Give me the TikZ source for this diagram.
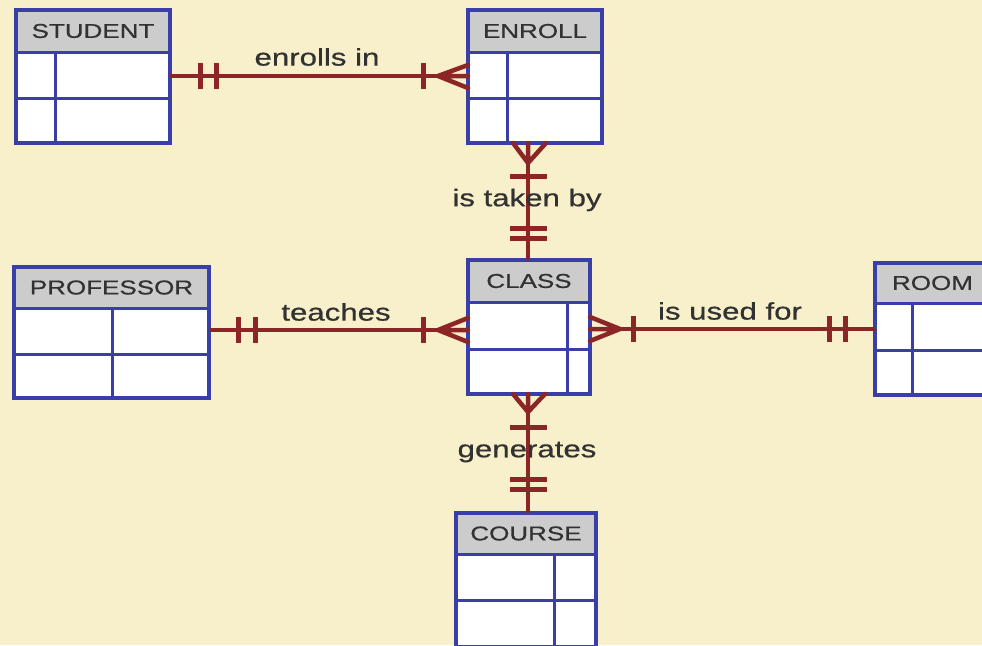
\documentclass[tikz,border=0pt]{standalone}
\usepackage{fontspec}
\newfontfamily\erfont[FakeStretch=1.3,FakeBold=0.6]{Liberation Sans}
\definecolor{bg}{RGB}{247,240,202}
\definecolor{tblue}{RGB}{58,62,168}
\definecolor{hdr}{RGB}{204,204,204}
\definecolor{rel}{RGB}{140,38,38}
\definecolor{txt}{RGB}{50,50,50}
\tikzset{
  tbox/.style={draw=tblue, fill=white, line width=3.5, inner sep=0, outer sep=0},
  tline/.style={draw=tblue, line width=3},
  tborder/.style={draw=tblue, line width=3.5, line join=round},
  hdrfill/.style={fill=hdr},
  htext/.style={text=txt, font=\erfont\fontsize{20}{24}\selectfont, inner sep=0},
  ltext/.style={text=txt, font=\erfont\fontsize{24}{28}\selectfont, inner sep=0},
  relline/.style={draw=rel, line width=3.5},
  relbar/.style={draw=rel, line width=5},
  crow/.style={draw=rel, line width=4.5, line cap=round},
}
\newcommand{\ertable}[9]{%
  \node[tbox, anchor=north west, minimum width={#4-#2}, minimum height={#5-#3}] (#1) at (#2,#3) {};
  \fill[hdrfill] (#2,#3) rectangle (#4,#6);
  \draw[tline] (#2,#6) -- (#4,#6) (#2,#7) -- (#4,#7) (#8,#6) -- (#8,#5);
  \draw[tborder] (#2,#3) rectangle (#4,#5);
  \node[htext] (#1-t) at ({(#2+#4)/2},{(#3+#6)/2}) {#9};
}
\begin{document}
\begin{tikzpicture}[x=1pt,y=-1pt]
\clip (0,0) rectangle (982,645);
\fill[bg] (0,0) rectangle (982,645);

\ertable{student}{16}{10}{170}{143}{52}{98}{55}{STUDENT}
\ertable{enroll}{468}{10}{602}{143}{52}{98}{507}{ENROLL}
\ertable{professor}{14}{267}{209}{398}{308}{354}{112}{PROFESSOR}
\ertable{class}{468}{260}{590}{394}{302}{349}{567}{CLASS}
\ertable{room}{875}{263}{990}{395}{303}{350}{912}{ROOM}
\ertable{course}{456}{513}{596}{647}{554}{600}{554}{COURSE}

% STUDENT -- ENROLL
\draw[relline] (student.east |- 0,76) -- (enroll.west |- 0,76);
\draw[relbar] (200,63) -- (200,89) (216,63) -- (216,89) (423,63) -- (423,89);
\draw[crow] (438,76) -- (enroll.west |- 0,65) (438,76) -- (enroll.west |- 0,76) (438,76) -- (enroll.west |- 0,88);
\node[ltext] (l1) at (317,57) {enrolls in};

% ENROLL -- CLASS
\draw[relline] (enroll.south -| 528,0) -- (class.north -| 528,0);
\draw[crow] (528,163) -- (513,143) (528,163) -- (528,143) (528,163) -- (546,143);
\draw[relbar] (510,176) -- (547,176) (510,228) -- (547,228) (510,238) -- (547,238);
\node[ltext] (l2) at (527,200) {is taken by};

% PROFESSOR -- CLASS
\draw[relline] (professor.east |- 0,330) -- (class.west |- 0,330);
\draw[relbar] (238,317) -- (238,343) (255,317) -- (255,343) (423,317) -- (423,343);
\draw[crow] (438,330) -- (class.west |- 0,318) (438,330) -- (class.west |- 0,330) (438,330) -- (class.west |- 0,342);
\node[ltext] (l3) at (336,312) {teaches};

% CLASS -- ROOM
\draw[relline] (class.east |- 0,329) -- (room.west |- 0,329);
\draw[crow] (620,329) -- (class.east |- 0,317) (620,329) -- (class.east |- 0,329) (620,329) -- (class.east |- 0,341);
\draw[relbar] (633,316) -- (633,342) (829,316) -- (829,342) (845,316) -- (845,342);
\node[ltext] (l4) at (730,311) {is used for};

% CLASS -- COURSE
\draw[relline] (class.south -| 528,0) -- (course.north -| 528,0);
\draw[crow] (528,412) -- (513,394) (528,412) -- (528,394) (528,412) -- (545,394);
\draw[relbar] (510,427) -- (547,427) (510,479) -- (547,479) (510,489) -- (547,489);
\node[ltext] (l5) at (527,452) {generates};
\end{tikzpicture}
\end{document}
